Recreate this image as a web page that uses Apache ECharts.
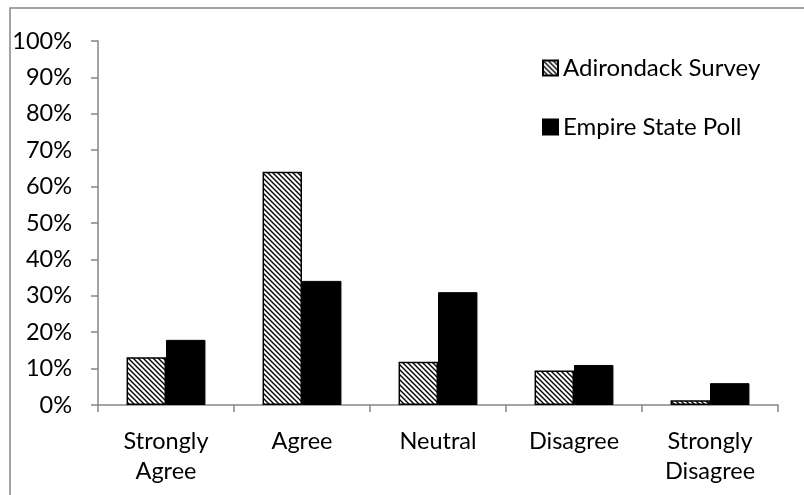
<!DOCTYPE html>
<html>
<head>
<meta charset="utf-8">
<script src="https://cdn.jsdelivr.net/npm/echarts@6/dist/echarts.min.js"></script>
<style>
html,body{margin:0;padding:0;background:#fff;}
#chart{width:804px;height:495px;}
</style>
</head>
<body>
<div id="chart"></div>
<script>
var categories = ['Strongly\nAgree', 'Agree', 'Neutral', 'Disagree', 'Strongly\nDisagree'];
var adirondack = [13.1, 64.1, 11.9, 9.5, 1.3];
var empire = [17.9, 34.1, 31.0, 11.0, 6.0];
var seriesNames = ['Adirondack Survey', 'Empire State Poll'];
var yTicks = [0, 10, 20, 30, 40, 50, 60, 70, 80, 90, 100];

function makeHatch() {
  var c = document.createElement('canvas');
  c.width = 5; c.height = 5;
  var ctx = c.getContext('2d');
  ctx.fillStyle = '#fff';
  ctx.fillRect(0, 0, 5, 5);
  ctx.strokeStyle = '#000';
  ctx.lineWidth = 1.4;
  ctx.beginPath();
  ctx.moveTo(-1, -1); ctx.lineTo(6, 6);
  ctx.moveTo(-4, 1); ctx.lineTo(1, 6);
  ctx.moveTo(1, -4); ctx.lineTo(6, 1);
  ctx.stroke();
  return c;
}

var FONT = 'Lato';
var chart = echarts.init(document.getElementById('chart'), null, {renderer: 'canvas'});
chart.setOption({
  animation: false,
  backgroundColor: '#fff',
  graphic: [{
    type: 'rect',
    shape: {x: 10, y: 8, width: 800, height: 500},
    style: {fill: 'none', stroke: '#868686', lineWidth: 1.5},
    silent: true
  }],
  grid: {left: 98, right: 26, top: 41, bottom: 90},
  legend: {
    orient: 'vertical',
    left: 542,
    top: 56,
    padding: 0,
    itemWidth: 15,
    itemHeight: 15,
    itemGap: 35,
    icon: 'rect',
    textStyle: {fontFamily: FONT, fontSize: 24, color: '#000'},
    data: seriesNames
  },
  xAxis: {
    type: 'category',
    data: categories,
    axisLine: {lineStyle: {color: '#868686', width: 1.5}},
    axisTick: {show: true, length: 7, lineStyle: {color: '#868686', width: 1.5}},
    axisLabel: {fontFamily: FONT, fontSize: 23.5, color: '#000', margin: 21, lineHeight: 30, interval: 0}
  },
  yAxis: {
    type: 'value',
    min: 0, max: 100, interval: 10,
    axisLine: {show: true, lineStyle: {color: '#868686', width: 1.5}},
    axisTick: {show: true, length: 7, lineStyle: {color: '#868686', width: 1.5}},
    splitLine: {show: false},
    axisLabel: {fontFamily: FONT, fontSize: 23.5, color: '#000', margin: 26,
      formatter: function (v) { return v + '%'; }}
  },
  series: [{
    name: seriesNames[0],
    type: 'bar',
    data: adirondack,
    barGap: '0%',
    barCategoryGap: '42%',
    itemStyle: {color: {image: makeHatch(), repeat: 'repeat'}, borderColor: '#000', borderWidth: 1.5}
  }, {
    name: seriesNames[1],
    type: 'bar',
    data: empire,
    barGap: '0%',
    barCategoryGap: '42%',
    itemStyle: {color: '#000', borderColor: '#000', borderWidth: 1}
  }]
});
</script>
</body>
</html>
